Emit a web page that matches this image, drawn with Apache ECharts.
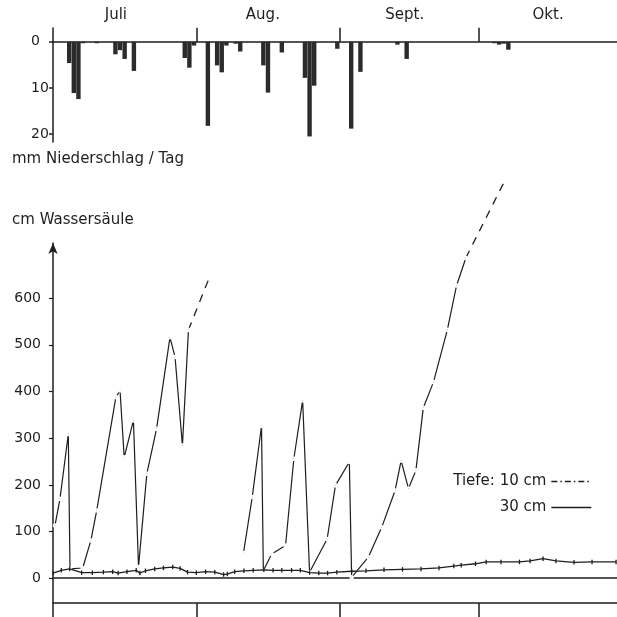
<!DOCTYPE html>
<html>
<head>
<meta charset="utf-8">
<script src="https://cdn.jsdelivr.net/npm/echarts@6/dist/echarts.min.js"></script>
<style>html,body{margin:0;padding:0;background:#fff}#c{width:617px;height:617px}</style>
</head>
<body>
<div id="c"></div>
<script>
// Days counted from 1 July (0 = 1 July) to 30 Oct
const months = ['Juli', 'Aug.', 'Sept.', 'Okt.'];
const monthBounds = [31, 62, 92];
const yTicksRain = [0, 10, 20];
const yTicksWater = [0, 100, 200, 300, 400, 500, 600];

// Niederschlag (mm / Tag): day index and amount
const rainDays = [3, 4, 5, 6, 9, 13, 14, 15, 17, 28, 29, 30, 33, 35, 36, 37, 39, 40, 45, 46, 49, 54, 55, 56, 61, 64, 66, 74, 76, 95, 96, 97, 98];
const rainMm   = [4.6, 11.1, 12.4, 0.3, 0.3, 2.7, 1.8, 3.7, 6.3, 3.5, 5.6, 0.8, 18.2, 5.1, 6.6, 0.8, 0.4, 2.1, 5.1, 11.0, 2.3, 7.8, 20.5, 9.5, 1.5, 18.8, 6.5, 0.6, 3.7, 0.3, 0.6, 0.4, 1.7];

// Tiefe 10 cm (cm Wassersäule), measured points, first run
const t10aDays = [0.43, 1.51, 3.31, 3.68, 6.42, 8.2, 9.45, 13.6, 14.5, 15.4, 17.4, 18.5, 20.3, 22.4, 25.3, 26.4, 28.0, 29.3];
const t10aVals = [113, 170, 309, 20, 22, 81, 145, 388, 402, 259, 338, 24, 224, 320, 516, 474, 284, 532];
// extrapolated (dashed) continuation
const t10aExtDays = [29.3, 34.1];
const t10aExtVals = [532, 651];
// second run
const t10bDays = [41.2, 43.1, 45.1, 45.5, 47.3, 50.3, 52.1, 54.0, 55.5, 59.3, 61.1, 64.1, 64.6, 68.2, 71.1, 74.0, 75.3, 76.9, 78.5, 80.1, 82.3, 85.3, 87.3, 89.3];
const t10bVals = [54, 174, 326, 16, 52, 70, 256, 381, 13, 84, 199, 249, 2, 45, 109, 188, 252, 192, 231, 365, 420, 532, 627, 686];
const t10bExtDays = [89.3, 97.4];
const t10bExtVals = [686, 845];

// Tiefe 30 cm
const t30Days = [0.0, 1.8, 3.6, 6.2, 8.5, 10.9, 12.9, 14.1, 16.0, 18.0, 18.8, 20.0, 22.0, 23.9, 25.9, 27.5, 29.1, 31.0, 33.0, 35.0, 36.9, 37.7, 39.3, 41.3, 43.3, 45.6, 47.6, 49.5, 51.6, 53.5, 55.5, 57.5, 59.4, 61.4, 64.6, 67.7, 71.6, 75.6, 79.6, 83.5, 86.7, 88.3, 91.4, 93.7, 96.9, 100.9, 103.2, 106.0, 108.8, 112.7, 116.6, 121.8];
const t30Vals = [11, 17, 20, 12, 12, 13, 14, 11, 14, 17, 11, 16, 20, 22, 24, 21, 13, 12, 14, 13, 8, 9, 14, 16, 17, 18, 17, 17, 17, 17, 12, 11, 11, 13, 15, 16, 18, 19, 20, 22, 26, 28, 31, 35, 35, 35, 37, 42, 37, 34, 35, 35];

const monthLabelPos = [13.6, 45.4, 76.1, 107.1];
const pair = (ds, vs) => ds.map((d, i) => [d, vs[i]]);

const ink = '#1e1e1e';
const FONT = 'DejaVu Sans';
const chart = echarts.init(document.getElementById('c'), null, {renderer: 'canvas'});

const dot10 = {
  type: 'line', xAxisIndex: 1, yAxisIndex: 1, name: 'Tiefe: 10 cm',
  symbol: 'circle', symbolSize: 2.6, showSymbol: true, showAllSymbol: true,
  itemStyle: {color: ink, borderColor: '#fff', borderWidth: 2},
  lineStyle: {color: ink, width: 1.2}, clip: false, z: 3
};
const ext10 = {
  type: 'line', xAxisIndex: 1, yAxisIndex: 1, symbol: 'none', silent: true,
  lineStyle: {color: ink, width: 1.3, type: [8, 7]}, clip: false, z: 2
};

chart.setOption({
  animation: false,
  backgroundColor: '#fff',
  textStyle: {fontFamily: FONT, color: ink},
  title: [
    {text: 'mm Niederschlag / Tag', left: 12, top: 152, padding: 0,
     textStyle: {fontFamily: FONT, fontSize: 15, fontWeight: 'normal', color: ink}},
    {text: 'cm Wassersäule', left: 12, top: 213, padding: 0,
     textStyle: {fontFamily: FONT, fontSize: 15, fontWeight: 'normal', color: ink}}
  ],
  grid: [
    {left: 53, right: 0, top: 28, height: 114},
    {left: 53, right: 0, top: 243, height: 374},
    {left: 53, right: 0, top: 603, height: 14}
  ],
  xAxis: [
    {gridIndex: 0, type: 'value', min: 0, max: 122, position: 'top',
     axisLine: {onZero: true, lineStyle: {color: ink, width: 1.5}},
     axisTick: {customValues: monthBounds, length: 14, lineStyle: {color: ink, width: 1.5}},
     axisLabel: {customValues: monthLabelPos, margin: 5, fontSize: 15, color: ink,
       formatter: v => months[monthLabelPos.indexOf(v)] || ''},
     splitLine: {show: false}},
    {gridIndex: 1, type: 'value', min: 0, max: 122,
     axisLine: {onZero: true, lineStyle: {color: ink, width: 1.5}},
     axisTick: {show: false}, axisLabel: {show: false}, splitLine: {show: false}},
    {gridIndex: 2, type: 'value', min: 0, max: 122, position: 'top',
     axisLine: {onZero: false, lineStyle: {color: ink, width: 1.5}},
     axisTick: {customValues: monthBounds, inside: true, length: 14, lineStyle: {color: ink, width: 1.5}},
     axisLabel: {show: false}, splitLine: {show: false}}
  ],
  yAxis: [
    {gridIndex: 0, type: 'value', inverse: true, min: -3, max: 21.7,
     axisLine: {show: true, onZero: false, lineStyle: {color: ink, width: 1.5}},
     axisTick: {show: true, customValues: yTicksRain, length: 4, lineStyle: {color: ink, width: 1.5}},
     axisLabel: {customValues: yTicksRain, align: 'left', margin: 22, fontSize: 14, color: ink},
     splitLine: {show: false}},
    {gridIndex: 1, type: 'value', min: -83, max: 718,
     axisLine: {show: true, onZero: false, symbol: ['none', 'arrow'], symbolSize: [7, 11], lineStyle: {color: ink, width: 1.5}},
     axisTick: {show: true, customValues: yTicksWater, length: 4, lineStyle: {color: ink, width: 1.2}},
     axisLabel: {customValues: yTicksWater, margin: 12, fontSize: 14, color: ink},
     splitLine: {show: false}},
    {gridIndex: 2, type: 'value', min: 0, max: 1, show: false}
  ],
  legend: {
    orient: 'vertical', right: 20, top: 469, align: 'right',
    itemWidth: 40, itemHeight: 14, itemGap: 11, selectedMode: false,
    itemStyle: {color: 'rgba(0,0,0,0)', borderWidth: 0},
    data: [
      {name: 'Tiefe: 10 cm', lineStyle: {type: [6, 3, 1.5, 3], width: 1.3}},
      {name: '30 cm', lineStyle: {width: 1.3}}
    ],
    formatter: n => '{a|' + n + '}',
    textStyle: {rich: {a: {width: 96, align: 'right', fontSize: 15, color: ink, fontFamily: FONT}}}
  },
  series: [
    {type: 'bar', name: 'Niederschlag', xAxisIndex: 0, yAxisIndex: 0,
     data: pair(rainDays.map(d => d + 0.5), rainMm), barWidth: 4.4,
     itemStyle: {color: '#2b2b2b'}},
    Object.assign({}, dot10, {data: pair(t10aDays, t10aVals)}),
    Object.assign({}, dot10, {data: pair(t10bDays, t10bVals)}),
    Object.assign({}, ext10, {name: 'ext1', data: pair(t10aExtDays, t10aExtVals)}),
    Object.assign({}, ext10, {name: 'ext2', data: pair(t10bExtDays, t10bExtVals)}),
    {type: 'line', name: '30 cm', xAxisIndex: 1, yAxisIndex: 1,
     data: pair(t30Days, t30Vals), symbol: 'rect', symbolSize: [1.3, 4.5], showAllSymbol: true,
     itemStyle: {color: ink}, lineStyle: {color: ink, width: 1.3}, z: 4}
  ]
});
</script>
</body>
</html>
